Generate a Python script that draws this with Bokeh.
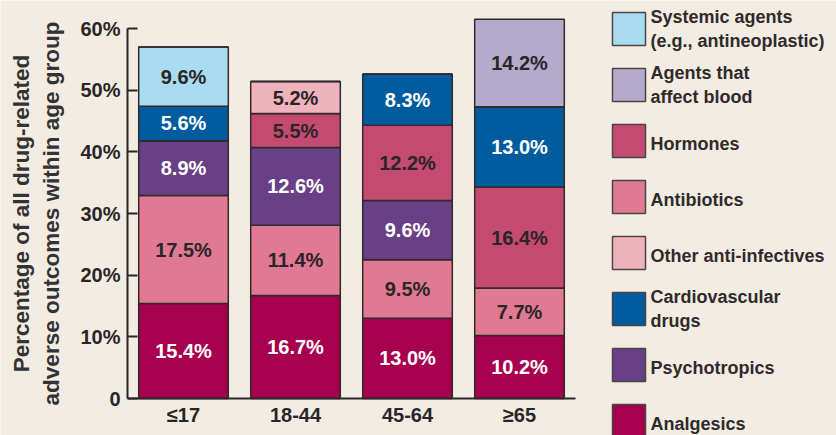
from bokeh.plotting import figure
from bokeh.models import (ColumnDataSource, Range1d, FixedTicker, LinearAxis)
from bokeh.core.properties import value
from bokeh.embed import file_html
from bokeh.resources import INLINE

# ---------------- data ----------------
categories = ["≤17", "18-44", "45-64", "≥65"]
analgesics = [15.4, 16.7, 13.0, 10.2]
antibiotics = [17.5, 11.4, 9.5, 7.7]
psychotropics = [8.9, 12.6, 9.6, 0.0]
hormones = [0.0, 5.5, 12.2, 16.4]
cardiovascular = [5.6, 0.0, 8.3, 13.0]
other_anti_infectives = [0.0, 5.2, 0.0, 0.0]
systemic_agents = [9.6, 0.0, 0.0, 0.0]
blood_agents = [0.0, 0.0, 0.0, 14.2]

series_keys = ["analgesics", "antibiotics", "psychotropics", "hormones",
               "cardiovascular", "other", "systemic", "blood"]
series_values = [analgesics, antibiotics, psychotropics, hormones,
                 cardiovascular, other_anti_infectives, systemic_agents, blood_agents]
series_colors = ["#a6004f", "#e07993", "#693f86", "#c44a72",
                 "#005c9f", "#efb3bd", "#a9dbf1", "#b4aacb"]
series_label_colors = ["white", "#2a2526", "white", "#2a2526",
                       "white", "#2a2526", "#2a2526", "#2a2526"]

legend_labels = ["Systemic agents\n(e.g., antineoplastic)", "Agents that\naffect blood",
                 "Hormones", "Antibiotics", "Other anti-infectives",
                 "Cardiovascular\ndrugs", "Psychotropics", "Analgesics"]
legend_keys = ["systemic", "blood", "hormones", "antibiotics", "other",
               "cardiovascular", "psychotropics", "analgesics"]

y_ticks = [0, 10, 20, 30, 40, 50, 60]
y_tick_labels = ["0", "10%", "20%", "30%", "40%", "50%", "60%"]

BG = "#f3ece3"
INK = "#2a2526"
FONT = "'Liberation Sans', Arial, sans-serif"

W, H = 836, 435
# layout (pixels): plot area x 127..575, 0% at y=398, 60% at y=28
X0, X1 = 127.0, 575.0
Y0, Y60 = 398.0, 28.0
cat_px = (X1 - X0) / len(categories)
pct_px = (Y0 - Y60) / 60.0

p = figure(width=W, height=H, output_backend="svg", toolbar_location=None,
           x_range=Range1d(-X0 / cat_px, (W - X0) / cat_px),
           y_range=Range1d(-(H - Y0) / pct_px, Y0 / pct_px),
           x_axis_type=None, y_axis_type=None, min_border=0)
p.background_fill_color = BG
p.border_fill_color = BG
p.outline_line_color = None
p.grid.visible = False
p.extra_x_ranges = {"px": Range1d(0, W)}
p.extra_y_ranges = {"px": Range1d(H, 0)}

xpos = [i + 0.5 for i in range(len(categories))]
data = {"x": xpos}
for k, v in zip(series_keys, series_values):
    data[k] = v
src = ColumnDataSource(data)

p.vbar_stack(series_keys, x="x", width=0.8, source=src, color=series_colors,
             line_color="#2f2a2b", line_width=1.5)

# segment labels
lx, ly, lt, lc = [], [], [], []
for i in range(len(categories)):
    base = 0.0
    for vals, tc in zip(series_values, series_label_colors):
        v = vals[i]
        if v > 0:
            lx.append(xpos[i])
            ly.append(base + v / 2)
            lt.append(f"{v:.1f}%")
            lc.append(tc)
        base += v
lsrc = ColumnDataSource(dict(x=lx, y=ly, t=lt, c=lc))
p.text(x="x", y="y", text="t", text_color="c", source=lsrc,
       text_align="center", text_baseline="middle",
       text_font=value(FONT), text_font_style="bold", text_font_size="20px")

# y axis
ya = LinearAxis(fixed_location=0)
ya.ticker = FixedTicker(ticks=y_ticks)
ya.major_label_overrides = {t: l for t, l in zip(y_ticks, y_tick_labels)}
ya.bounds = (0, 60)
ya.major_tick_in = 10
ya.major_tick_out = 0
ya.minor_tick_in = 0
ya.minor_tick_out = 0
ya.major_tick_line_width = 2
ya.major_tick_line_color = INK
ya.axis_line_width = 2
ya.axis_line_color = INK
ya.major_label_standoff = 7
ya.major_label_text_font = FONT
ya.major_label_text_font_style = "bold"
ya.major_label_text_font_size = "20px"
ya.major_label_text_color = INK
ya.axis_label = "Percentage of all drug-related\nadverse outcomes within age group"
ya.axis_label_text_font = FONT
ya.axis_label_text_font_style = "bold"
ya.axis_label_text_font_size = "22.5px"
ya.axis_label_text_color = "#333333"
ya.axis_label_text_line_height = 1.2
ya.axis_label_standoff = 13
p.add_layout(ya, "left")

# x axis
xa = LinearAxis(fixed_location=0)
xa.ticker = FixedTicker(ticks=xpos)
xa.major_label_overrides = {x: c for x, c in zip(xpos, categories)}
xa.bounds = (0, len(categories))
xa.major_tick_in = 0
xa.major_tick_out = 0
xa.minor_tick_in = 0
xa.minor_tick_out = 0
xa.axis_line_width = 2
xa.axis_line_color = INK
xa.major_label_standoff = 5
xa.major_label_text_font = FONT
xa.major_label_text_font_style = "bold"
xa.major_label_text_font_size = "20px"
xa.major_label_text_color = INK
p.add_layout(xa, "below")

# ---------------- legend (pixel coordinates) ----------------
color_of = dict(zip(series_keys, series_colors))
sq_x, sq_y, sq_c = [], [], []
tx, ty, tt = [], [], []
for i, (lab, key) in enumerate(zip(legend_labels, legend_keys)):
    top = 12 + 56 * i
    cy = top + 16.5
    sq_x.append(612 + 16.5)
    sq_y.append(cy)
    sq_c.append(color_of[key])
    lines = lab.split("\n")
    if len(lines) == 1:
        tx.append(650); ty.append(cy + 3); tt.append(lines[0])
    else:
        tx.append(650); ty.append(cy - 12); tt.append(lines[0])
        tx.append(650); ty.append(cy + 12); tt.append(lines[1])

p.rect(x=sq_x, y=sq_y, width=33, height=33, fill_color=sq_c,
       line_color="#4a4546", line_width=1.5, x_range_name="px", y_range_name="px")
p.text(x=tx, y=ty, text=tt, text_align="left", text_baseline="middle",
       text_font=value(FONT), text_font_style="bold", text_font_size="18px",
       text_color="#2f2a2b", x_range_name="px", y_range_name="px")

html = file_html(p, INLINE)
html = html.replace("<body>", '<body style="background:%s">' % BG, 1)
open("out.html", "w").write(html)
